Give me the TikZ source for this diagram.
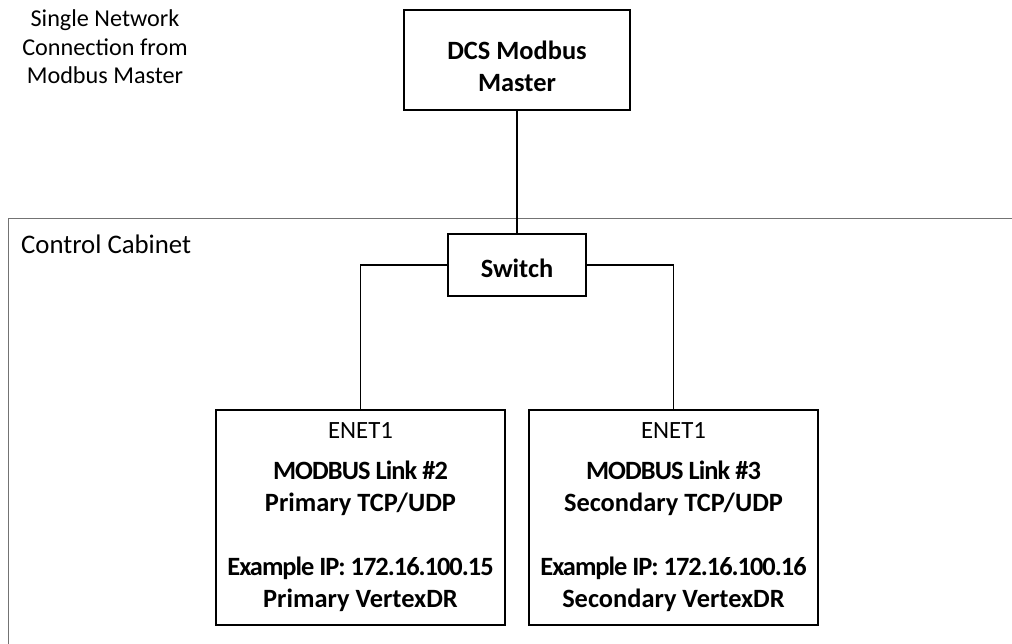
\documentclass[tikz,border=0pt]{standalone}
\usepackage{fontspec}
\setmainfont{Carlito}
\begin{document}
\begin{tikzpicture}[x=0.5pt,y=-0.5pt,
    box/.style={draw=black,line width=1pt,align=center,inner sep=0pt,font=\bfseries\fontsize{13.2}{16}\selectfont},
    wire/.style={draw=black,line width=0.7pt},
    cabinet/.style={draw=black!55,line width=0.5pt}]
  \useasboundingbox (0,0) rectangle (1012,643);
  % cabinet outline runs off the page on the right and bottom
  \draw[cabinet] (8.5,218) rectangle (1030,660);
  \node[anchor=north,align=center,inner sep=0pt,font=\fontsize{12.1}{14.25}\selectfont] (note) at (105,9.5) {Single Network\\Connection from\\Modbus Master};
  \node[anchor=base west,inner sep=0pt,font=\fontsize{13.4}{16}\selectfont] (cab) at (20.7,253) {Control Cabinet};
  \node[box,minimum width=113pt,minimum height=50pt] (dcs) at (517,60) {\rule{0pt}{16pt}DCS Modbus\\Master};
  \node[box,minimum width=69pt,minimum height=31pt] (sw) at (517,265) {\rule{0pt}{13pt}Switch};
  \foreach \nm/\role/\lnk/\ip/\x in {prim/Primary/2/15/360.5, sec/Secondary/3/16/673.5}
    \node[box,minimum width=144.5pt,minimum height=107.5pt] (\nm) at (\x,517)
      {{\mdseries\fontsize{12.4}{14}\selectfont ENET1}\\[4.5pt]{\addfontfeature{LetterSpace=-3.5}MODBUS Link \#\lnk}\\\role{} TCP/UDP\\[16pt]{\addfontfeature{LetterSpace=-3.8}Example IP: 172.16.100.\ip}\\\role{} VertexDR};
  \draw[wire] (dcs) -- (sw);
  \draw[wire] (sw.west) -| (prim.north);
  \draw[wire] (sw.east) -| (sec.north);
\end{tikzpicture}
\end{document}
